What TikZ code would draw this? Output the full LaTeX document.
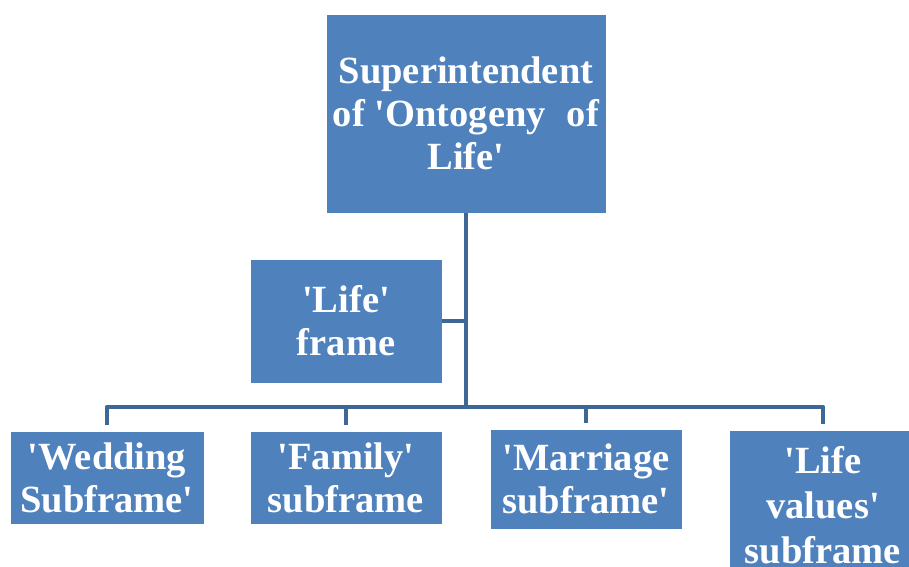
\documentclass[tikz,border=0pt]{standalone}
\usepackage{fontspec}
\setmainfont{Liberation Serif}[Ligatures=TeXOff]
\definecolor{boxblue}{HTML}{4F81BD}
\definecolor{linkblue}{HTML}{3D6896}
\begin{document}
\begin{tikzpicture}[x=1pt,y=-1pt,
  box/.style={rectangle, fill=boxblue, draw=white, line width=0.6pt, inner sep=0pt,
    text=white, font=\fontsize{38.5}{43}\selectfont\bfseries, align=center},
  conn/.style={draw=linkblue, line width=4.5pt, line join=round}]
\clip (0,0) rectangle (909,566);
\fill[white] (0,0) rectangle (909,566);
\node[box, minimum width=280, minimum height=199] (top) at (466,113.5)
  {Superintendent\\of 'Ontogeny\hspace{0.3em} of\\Life'};
\node[box, minimum width=192, minimum height=124] (life) at (346,321) {'Life'\\frame};
\node[box, minimum width=194, minimum height=93] (wed) at (107,477.5) {'Wedding\\Subframe'};
\node[box, minimum width=192, minimum height=93] (fam) at (346,477.5) {'Family'\\subframe};
\node[box, minimum width=192, minimum height=100] (mar) at (586,479) {'Marriage\\subframe'};
\node[box, minimum width=188, minimum height=150, font=\fontsize{38.5}{45}\selectfont\bfseries] (val) at (823,505) {'Life\\values'\\subframe};
\coordinate (j) at (466,407);
\draw[conn] (top.south) -- (j);
\draw[conn] (life.east) -- (life.east -| top.south);
\draw[conn, shorten >=6pt] (j) -| (wed.north);
\draw[conn, shorten >=6pt] (j) -| (fam.north);
\draw[conn, shorten >=6pt] (j) -| (mar.north);
\draw[conn, shorten >=6pt] (j) -| (val.north);
\end{tikzpicture}
\end{document}
